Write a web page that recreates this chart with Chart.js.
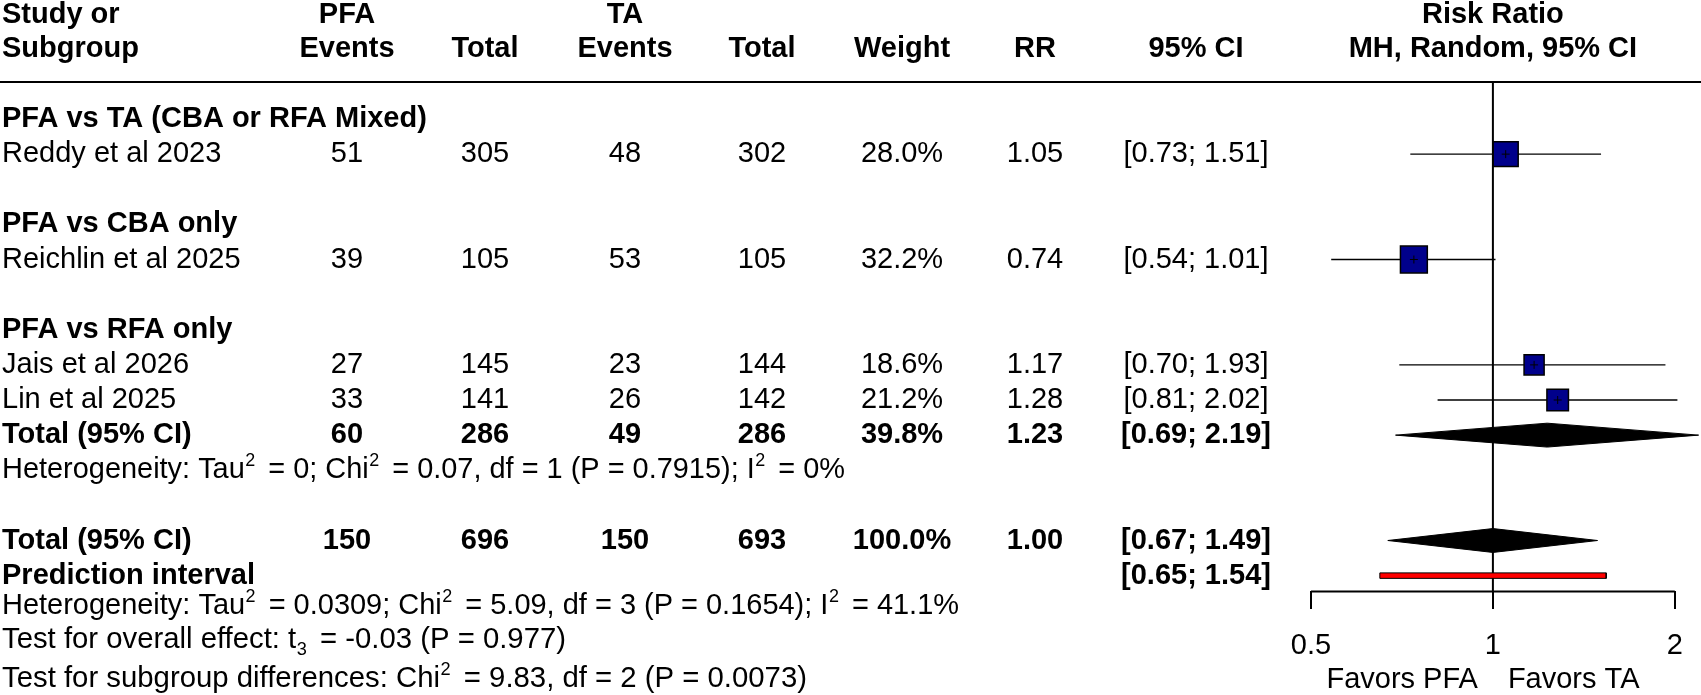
<!DOCTYPE html>
<html>
<head>
<meta charset="utf-8">
<script src="https://cdn.jsdelivr.net/npm/chart.js@4.4.1/dist/chart.umd.min.js"></script>
<style>
html, body { margin: 0; padding: 0; background: #ffffff; }
canvas { display: block; }
</style>
</head>
<body>
<canvas id="forest" width="1701" height="695"></canvas>
<script>
// ------------------------- DATA -------------------------
const headerTop    = ["Study or", "PFA", "", "TA", "", "", "", "", "Risk Ratio"];
const headerBottom = ["Subgroup", "Events", "Total", "Events", "Total", "Weight", "RR", "95% CI", "MH, Random, 95% CI"];

const subgroupLabels = ["PFA vs TA (CBA or RFA Mixed)", "PFA vs CBA only", "PFA vs RFA only"];
const subgroupRows   = [0, 3, 6];

const studyLabels = ["Reddy et al 2023", "Reichlin et al 2025", "Jais et al 2026", "Lin et al 2025"];
const studyRows   = [1, 4, 7, 8];
const pfaEvents   = [51, 39, 27, 33];
const pfaTotal    = [305, 105, 145, 141];
const taEvents    = [48, 53, 23, 26];
const taTotal     = [302, 105, 144, 142];
const weights     = [28.0, 32.2, 18.6, 21.2];
const riskRatio   = [1.05, 0.74, 1.17, 1.28];
const ciLower     = [0.73, 0.54, 0.70, 0.81];
const ciUpper     = [1.51, 1.01, 1.93, 2.02];

const pooledLabels    = ["Total (95% CI)", "Total (95% CI)"];
const pooledRows      = [9, 12];
const pooledPfaEvents = [60, 150];
const pooledPfaTotal  = [286, 696];
const pooledTaEvents  = [49, 150];
const pooledTaTotal   = [286, 693];
const pooledWeights   = [39.8, 100.0];
const pooledRR        = [1.23, 1.00];
const pooledLower     = [0.69, 0.67];
const pooledUpper     = [2.19, 1.49];

const predictionLabel = "Prediction interval";
const predictionRow   = 13;
const predictionLower = 0.65;
const predictionUpper = 1.54;

// text parts: [text, mode]  mode: "" normal, "sup", "sub"
const noteTexts = [
  [["Heterogeneity: Tau", ""], ["2", "sup"], [" = 0; Chi", ""], ["2", "sup"], [" = 0.07, df = 1 (P = 0.7915); I", ""], ["2", "sup"], [" = 0%", ""]],
  [["Heterogeneity: Tau", ""], ["2", "sup"], [" = 0.0309; Chi", ""], ["2", "sup"], [" = 5.09, df = 3 (P = 0.1654); I", ""], ["2", "sup"], [" = 41.1%", ""]],
  [["Test for overall effect: t", ""], ["3", "sub"], [" = -0.03 (P = 0.977)", ""]],
  [["Test for subgroup differences: Chi", ""], ["2", "sup"], [" = 9.83, df = 2 (P = 0.0073)", ""]]
];
const noteRows = [10, 13.87, 14.84, 15.94];

const xTickValues = [0.5, 1, 2];
const referenceValue = 1;
const favorLabels = ["Favors PFA", "Favors TA"];

// ------------------------- LAYOUT / STYLE -------------------------
const FONT = '"Liberation Sans", Arial, Helvetica, sans-serif';
const FS = 29;
const SUP_FS = 18;
const SUP_PRE = 0.5, SUP_POST = 5;
const NOTE_END_X = [845, 959, 566, 807];
const colX = [2, 347, 485, 625, 762, 902, 1035, 1196];   // study(left), then column centres
const HEADER_ROWS = [-2.96, -1.99];
const RULE_ROW = -1.05;
const AXIS_ROW = 13.45;
const FAVOR_ROW = 15.97;
const AXIS_MIN = 0.5, AXIS_VIEW_MAX = 2.21, AXIS_MAX = 2;
const SQUARE_K = 5.0;          // outer side = K * sqrt(weight)
const DIAMOND_HALF = 0.34;     // in row units
const PI_HALF = 0.078;
const SQUARE_COLOR = '#00008B';

// ------------------------- DATASETS -------------------------
const datasets = [];

// reference line at RR = 1
datasets.push({
  type: 'line', data: [{x: referenceValue, y: RULE_ROW}, {x: referenceValue, y: AXIS_ROW}],
  borderColor: '#000', borderWidth: 2, pointRadius: 0, fill: false, clip: false, order: 20
});
// axis line
datasets.push({
  type: 'line', data: [{x: AXIS_MIN, y: AXIS_ROW}, {x: AXIS_MAX, y: AXIS_ROW}],
  borderColor: '#000', borderWidth: 2, pointRadius: 0, fill: false, clip: false, order: 19
});
// confidence intervals
studyLabels.forEach((s, i) => {
  datasets.push({
    type: 'line', data: [{x: ciLower[i], y: studyRows[i]}, {x: ciUpper[i], y: studyRows[i]}],
    borderColor: '#000', borderWidth: 1.3, pointRadius: 0, fill: false, clip: false, order: 10
  });
});
// weighted squares
datasets.push({
  type: 'scatter',
  data: riskRatio.map((v, i) => ({x: v, y: studyRows[i]})),
  pointStyle: 'rect',
  pointRadius: weights.map(w => (SQUARE_K * Math.sqrt(w) - 1.5) / Math.SQRT2),
  pointBackgroundColor: SQUARE_COLOR, pointBorderColor: '#000', pointBorderWidth: 1.5,
  clip: false, order: 5
});
// small cross at point estimate
datasets.push({
  type: 'scatter',
  data: riskRatio.map((v, i) => ({x: v, y: studyRows[i]})),
  pointStyle: 'cross', pointRadius: 4,
  pointBorderColor: '#000', pointBorderWidth: 1,
  clip: false, order: 4
});
// pooled diamonds
pooledRR.forEach((v, i) => {
  const r = pooledRows[i];
  datasets.push({
    type: 'line',
    data: [{x: pooledLower[i], y: r}, {x: v, y: r - DIAMOND_HALF}, {x: pooledUpper[i], y: r},
           {x: v, y: r + DIAMOND_HALF}, {x: pooledLower[i], y: r}],
    borderColor: '#000', backgroundColor: '#000', borderWidth: 1, pointRadius: 0,
    fill: 'shape', tension: 0, clip: false, order: 3
  });
});
// prediction interval bar
datasets.push({
  type: 'line',
  data: [{x: predictionLower, y: predictionRow - PI_HALF}, {x: predictionUpper, y: predictionRow - PI_HALF},
         {x: predictionUpper, y: predictionRow + PI_HALF}, {x: predictionLower, y: predictionRow + PI_HALF},
         {x: predictionLower, y: predictionRow - PI_HALF}],
  borderColor: '#000', backgroundColor: '#FF0000', borderWidth: 1, pointRadius: 0,
  fill: 'shape', tension: 0, clip: false, order: 2
});

// ------------------------- TABLE PLUGIN -------------------------
const fmtCI = (lo, hi) => '[' + lo.toFixed(2) + '; ' + hi.toFixed(2) + ']';

const tablePlugin = {
  id: 'forestTable',
  afterDraw(chart) {
    const ctx = chart.ctx;
    const ys = chart.scales.y, xs = chart.scales.x;
    const Y = r => ys.getPixelForValue(r);
    ctx.save();
    ctx.fillStyle = '#000';
    ctx.textBaseline = 'middle';
    const put = (t, x, r, align, bold) => {
      ctx.font = (bold ? 'bold ' : '') + FS + 'px ' + FONT;
      ctx.textAlign = align;
      ctx.fillText(String(t), x, Y(r));
    };
    const rich = (parts, x, r, endX) => {
      const y = Y(r);
      ctx.textAlign = 'left';
      let w = 0;
      parts.forEach(([t, mode]) => {
        ctx.font = (mode ? SUP_FS : FS) + 'px ' + FONT;
        w += ctx.measureText(t).width + (mode ? SUP_PRE + SUP_POST : 0);
      });
      const k = (endX - x) / w;
      ctx.save();
      ctx.translate(x, y);
      ctx.scale(k, 1);
      let cx = 0;
      parts.forEach(([t, mode]) => {
        ctx.font = (mode ? SUP_FS : FS) + 'px ' + FONT;
        let dy = 0;
        if (mode) cx += SUP_PRE;
        if (mode === 'sup') dy = -9;
        if (mode === 'sub') dy = 9.5;
        ctx.fillText(t, cx, dy);
        cx += ctx.measureText(t).width;
        if (mode) cx += SUP_POST;
      });
      ctx.restore();
    };

    // column headers
    const refX = xs.getPixelForValue(referenceValue);
    const hx = colX.concat([refX]);
    headerTop.forEach((t, i) => { if (t) put(t, hx[i], HEADER_ROWS[0], i === 0 ? 'left' : 'center', true); });
    headerBottom.forEach((t, i) => { if (t) put(t, hx[i], HEADER_ROWS[1], i === 0 ? 'left' : 'center', true); });

    // header rule
    ctx.strokeStyle = '#000';
    ctx.lineWidth = 2;
    ctx.beginPath();
    ctx.moveTo(0, Math.round(Y(RULE_ROW)));
    ctx.lineTo(chart.width, Math.round(Y(RULE_ROW)));
    ctx.stroke();

    subgroupLabels.forEach((t, i) => put(t, colX[0], subgroupRows[i], 'left', true));

    studyLabels.forEach((t, i) => {
      const r = studyRows[i];
      put(t, colX[0], r, 'left', false);
      put(pfaEvents[i], colX[1], r, 'center', false);
      put(pfaTotal[i], colX[2], r, 'center', false);
      put(taEvents[i], colX[3], r, 'center', false);
      put(taTotal[i], colX[4], r, 'center', false);
      put(weights[i].toFixed(1) + '%', colX[5], r, 'center', false);
      put(riskRatio[i].toFixed(2), colX[6], r, 'center', false);
      put(fmtCI(ciLower[i], ciUpper[i]), colX[7], r, 'center', false);
    });

    pooledLabels.forEach((t, i) => {
      const r = pooledRows[i];
      put(t, colX[0], r, 'left', true);
      put(pooledPfaEvents[i], colX[1], r, 'center', true);
      put(pooledPfaTotal[i], colX[2], r, 'center', true);
      put(pooledTaEvents[i], colX[3], r, 'center', true);
      put(pooledTaTotal[i], colX[4], r, 'center', true);
      put(pooledWeights[i].toFixed(1) + '%', colX[5], r, 'center', true);
      put(pooledRR[i].toFixed(2), colX[6], r, 'center', true);
      put(fmtCI(pooledLower[i], pooledUpper[i]), colX[7], r, 'center', true);
    });

    put(predictionLabel, colX[0], predictionRow, 'left', true);
    put(fmtCI(predictionLower, predictionUpper), colX[7], predictionRow, 'center', true);

    noteTexts.forEach((parts, i) => rich(parts, colX[0], noteRows[i], NOTE_END_X[i]));

    put(favorLabels[0], refX - 15, FAVOR_ROW, 'right', false);
    put(favorLabels[1], refX + 15, FAVOR_ROW, 'left', false);

    ctx.restore();
  }
};

// ------------------------- CHART -------------------------
new Chart(document.getElementById('forest').getContext('2d'), {
  type: 'line',
  data: { datasets },
  options: {
    responsive: false,
    animation: false,
    devicePixelRatio: 1,
    events: [],
    layout: { autoPadding: false, padding: { left: 1311, right: 0, top: 119, bottom: 14 } },
    plugins: { legend: { display: false }, tooltip: { enabled: false }, title: { display: false } },
    scales: {
      x: {
        type: 'logarithmic',
        min: AXIS_MIN,
        max: AXIS_VIEW_MAX,
        position: { y: AXIS_ROW },
        afterFit: s => { s.height = 0; s.paddingLeft = 0; s.paddingRight = 0; s.paddingTop = 0; s.paddingBottom = 0; },
        afterBuildTicks: s => { s.ticks = xTickValues.map(v => ({ value: v })); },
        border: { display: false },
        grid: { drawOnChartArea: false, drawTicks: true, tickLength: 18, color: '#000', lineWidth: 2 },
        ticks: {
          color: '#000', padding: 22, maxRotation: 0, minRotation: 0, autoSkip: false,
          font: { family: FONT, size: FS, lineHeight: 1 },
          callback: v => String(v)
        }
      },
      y: { type: 'linear', min: 0, max: 16, reverse: true, display: false }
    }
  },
  plugins: [tablePlugin]
});
</script>
</body>
</html>
